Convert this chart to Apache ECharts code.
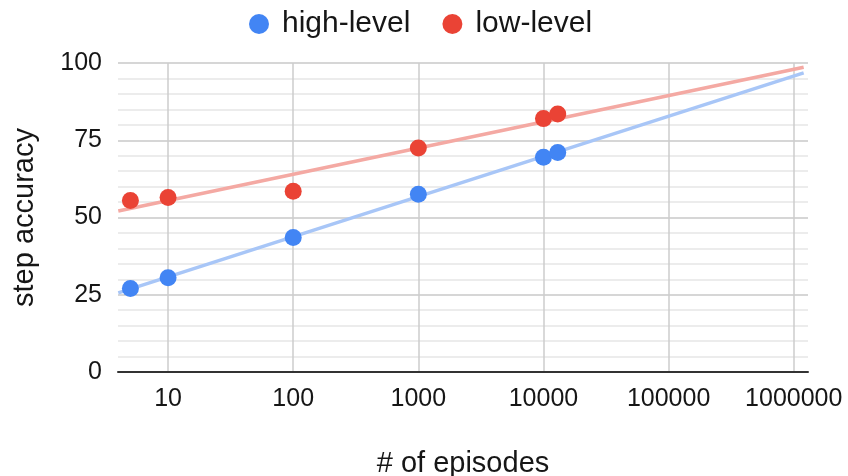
<!DOCTYPE html>
<html>
<head>
<meta charset="utf-8">
<script src="https://cdn.jsdelivr.net/npm/echarts@6/dist/echarts.min.js"></script>
<style>
html,body{margin:0;padding:0;background:#fff;}
#chart{width:848px;height:476px;}
</style>
</head>
<body>
<div id="chart"></div>
<script>
const episodes = [5, 10, 100, 1000, 10000, 13000];
const highLevel = [27, 30.5, 43.5, 57.5, 69.5, 71];
const lowLevel = [55.5, 56.5, 58.5, 72.5, 82, 83.5];
// trendline endpoints
const trendX = [4, 1200000];
const highTrend = [25.6, 96.8];
const lowTrend = [52.1, 98.6];
const yTicks = [0, 25, 50, 75, 100];

const pairs = (xs, ys) => xs.map((x, i) => [x, ys[i]]);
const FONT = 'Liberation Sans, Arial, sans-serif';
const TXT = '#161616';

const chart = echarts.init(document.getElementById('chart'));
chart.setOption({
  animation: false,
  legend: {
    data: ['high-level', 'low-level'],
    top: 4,
    left: 244,
    icon: 'circle',
    itemWidth: 20,
    itemHeight: 20,
    itemGap: 32,
    textStyle: { fontFamily: FONT, fontSize: 30, color: TXT, padding: [0, 0, 0, 8] }
  },
  grid: { left: 118, right: 40, top: 63, bottom: 104, containLabel: false, outerBoundsMode: 'none' },
  xAxis: {
    type: 'log',
    logBase: 10,
    min: 3.98,
    max: 1300000,
    name: '# of episodes',
    nameLocation: 'middle',
    nameGap: 77,
    nameTextStyle: { fontFamily: FONT, fontSize: 29, color: TXT },
    axisLine: { show: true, lineStyle: { color: '#333', width: 2 } },
    axisTick: { show: false },
    axisLabel: {
      fontFamily: FONT, fontSize: 25, color: TXT, margin: 15,
      showMinLabel: false, showMaxLabel: false,
      formatter: v => String(Math.round(v))
    },
    splitLine: { show: true, showMinLine: false, showMaxLine: false, lineStyle: { color: '#cccccc', width: 1.5 } }
  },
  yAxis: {
    type: 'value',
    min: yTicks[0],
    max: yTicks[yTicks.length - 1],
    interval: 25,
    name: 'step accuracy',
    nameLocation: 'middle',
    nameGap: 79,
    nameTextStyle: { fontFamily: FONT, fontSize: 29, color: TXT },
    axisLine: { show: false },
    axisTick: { show: false },
    axisLabel: { fontFamily: FONT, fontSize: 25, color: TXT, margin: 16 },
    splitLine: { lineStyle: { color: '#c8c8c8', width: 1.5 } },
    minorTick: { show: false, splitNumber: 5 },
    minorSplitLine: { show: true, lineStyle: { color: '#e6e6e6', width: 1.5 } }
  },
  series: [
    {
      name: 'high-level trend', type: 'line', data: pairs(trendX, highTrend),
      showSymbol: false, symbol: 'none', silent: true, z: 1,
      lineStyle: { color: '#a8c6f7', width: 3.5 }
    },
    {
      name: 'low-level trend', type: 'line', data: pairs(trendX, lowTrend),
      showSymbol: false, symbol: 'none', silent: true, z: 1,
      lineStyle: { color: '#f4a9a3', width: 3.5 }
    },
    {
      name: 'high-level', type: 'scatter', data: pairs(episodes, highLevel),
      symbolSize: 17, z: 3, itemStyle: { color: '#4285F4', opacity: 1 }
    },
    {
      name: 'low-level', type: 'scatter', data: pairs(episodes, lowLevel),
      symbolSize: 17, z: 3, itemStyle: { color: '#EA4335', opacity: 1 }
    }
  ]
});
</script>
</body>
</html>
